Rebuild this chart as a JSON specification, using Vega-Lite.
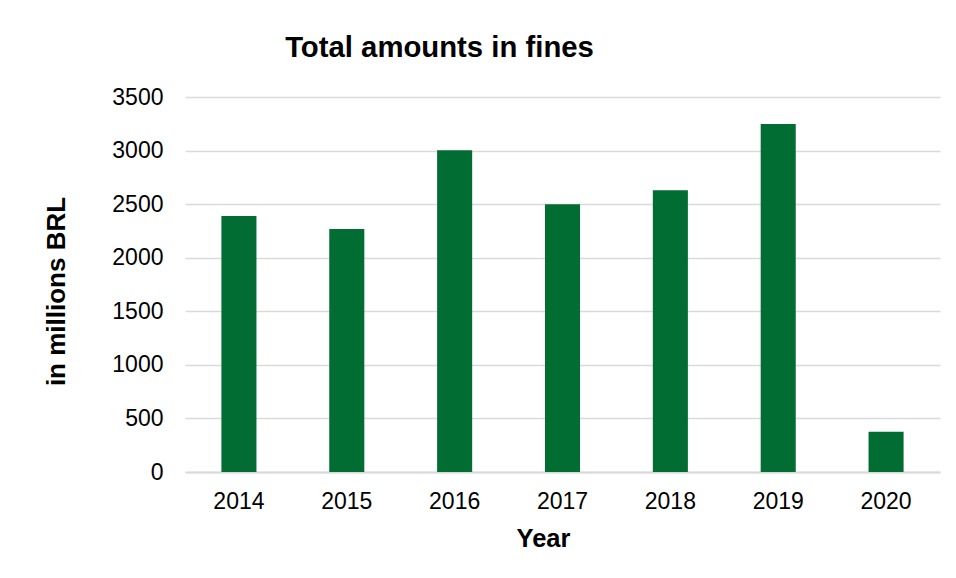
{
  "$schema": "https://vega.github.io/schema/vega-lite/v6.json",
  "width": 755,
  "height": 375,
  "autosize": {"type": "none"},
  "padding": {"left": 185, "top": 97, "right": 16, "bottom": 106},
  "background": "white",
  "title": {
    "text": "Total amounts in fines",
    "font": "Liberation Sans",
    "fontSize": 29.3,
    "fontWeight": "bold",
    "color": "#000000",
    "anchor": "middle",
    "dx": -123,
    "dy": 28,
    "baseline": "alphabetic",
    "offset": 28
  },
  "data": {
    "values": [
      {"year": "2014", "amount": 2390},
      {"year": "2015", "amount": 2268},
      {"year": "2016", "amount": 3003},
      {"year": "2017", "amount": 2500},
      {"year": "2018", "amount": 2630},
      {"year": "2019", "amount": 3247},
      {"year": "2020", "amount": 376}
    ]
  },
  "mark": {"type": "bar", "color": "#026d32"},
  "encoding": {
    "x": {
      "field": "year",
      "type": "ordinal",
      "scale": {"paddingInner": 0.675, "paddingOuter": 0.3375},
      "axis": {
        "title": "Year",
        "labelAngle": 0,
        "ticks": false,
        "tickSize": 0,
        "labelPadding": 36.5,
        "labelBaseline": "alphabetic",
        "labelFontSize": 23,
        "labelFont": "Liberation Sans",
        "labelColor": "#000000",
        "domainColor": "#d9d9d9",
        "domainWidth": 2,
        "grid": false,
        "titleFont": "Liberation Sans",
        "titleFontSize": 25.5,
        "titleFontWeight": "bold",
        "titleColor": "#000000",
        "titleBaseline": "alphabetic",
        "titleX": 358,
        "titleY": 74,
        "titleAnchor": "middle"
      }
    },
    "y": {
      "field": "amount",
      "type": "quantitative",
      "scale": {"domain": [0, 3500], "nice": false},
      "axis": {
        "title": "in millions BRL",
        "values": [0, 500, 1000, 1500, 2000, 2500, 3000, 3500],
        "format": "d",
        "ticks": false,
        "tickSize": 0,
        "domain": false,
        "labelPadding": 22,
        "labelFontSize": 23,
        "labelFont": "Liberation Sans",
        "labelColor": "#000000",
        "grid": true,
        "gridColor": "#d9d9d9",
        "gridWidth": 1.5,
        "titleFont": "Liberation Sans",
        "titleFontSize": 26,
        "titleFontWeight": "bold",
        "titleColor": "#000000",
        "titleBaseline": "alphabetic",
        "titleAngle": -90,
        "titleX": -121,
        "titleY": 194,
        "titleAnchor": "middle"
      }
    }
  },
  "config": {
    "view": {"stroke": null}
  }
}
